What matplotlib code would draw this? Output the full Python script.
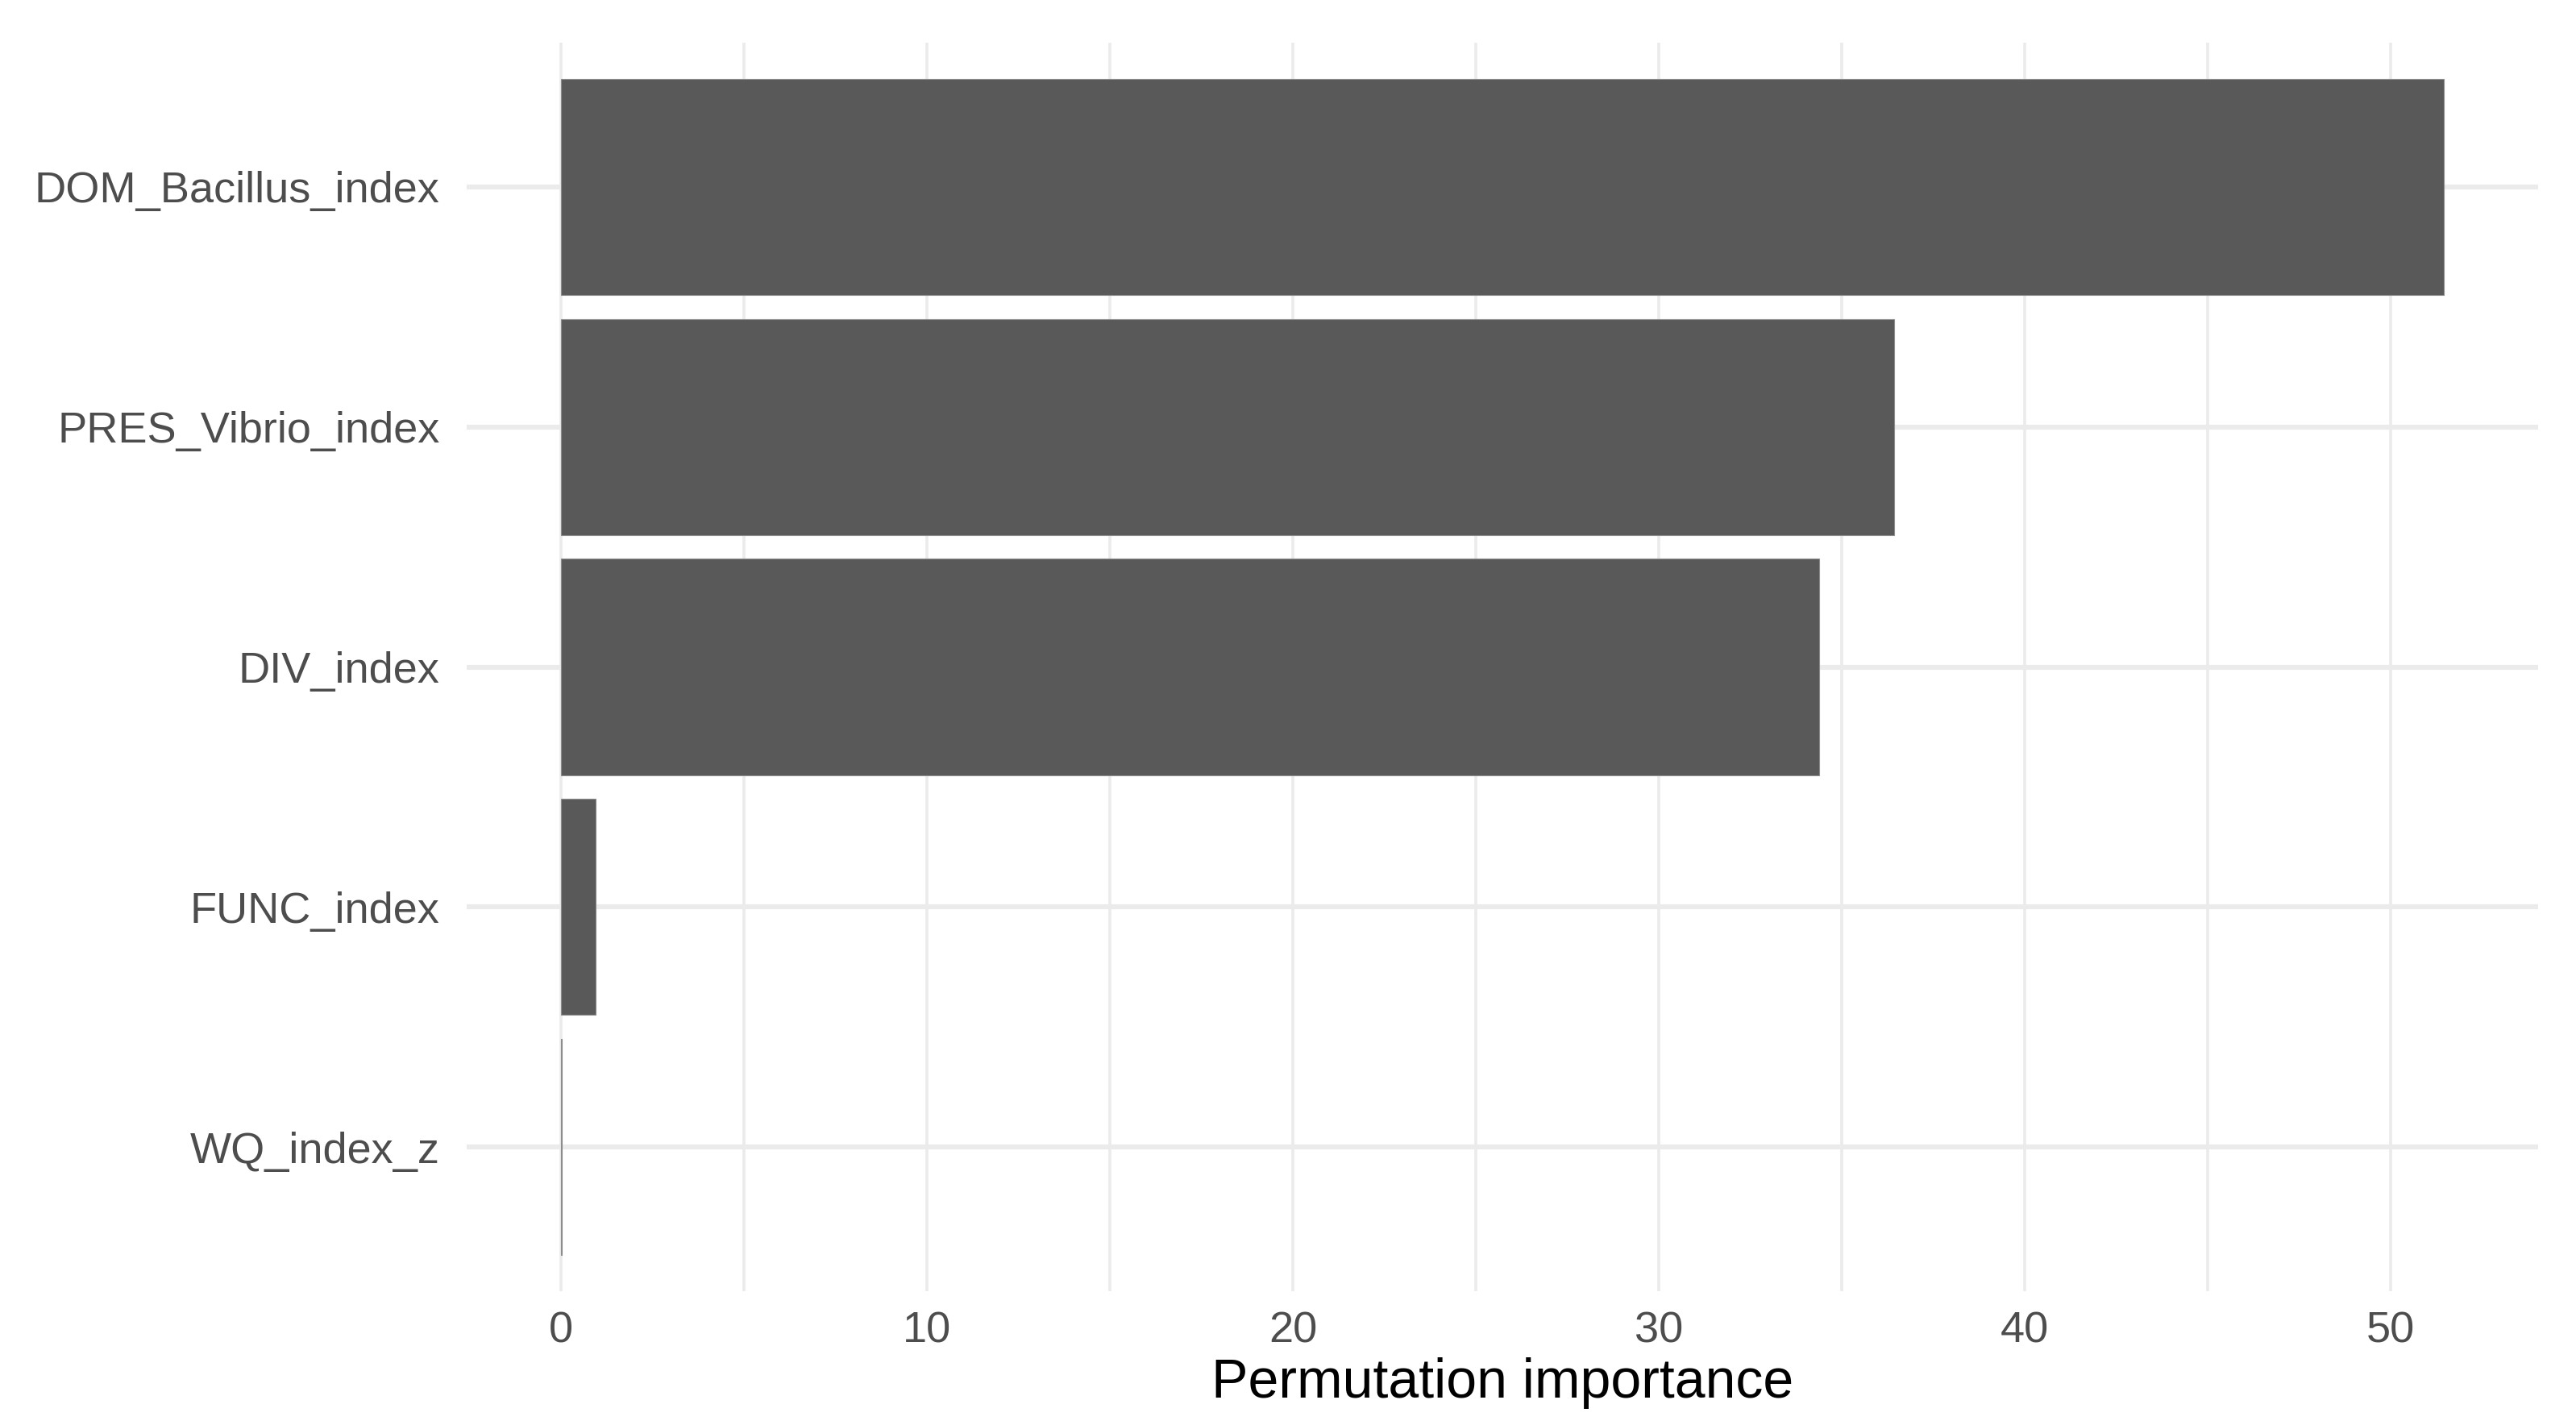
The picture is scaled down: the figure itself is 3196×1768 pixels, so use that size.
import numpy as np
import matplotlib
matplotlib.use("Agg")
import matplotlib.pyplot as plt
from matplotlib.ticker import MultipleLocator

# 数据
features = ["DOM_Bacillus_index", "PRES_Vibrio_index", "DIV_index", "FUNC_index", "WQ_index_z"]
importance = [51.45, 36.43, 34.37, 0.95, 0.02]
x_ticks = [0, 10, 20, 30, 40, 50]

plt.rcParams['font.family'] = ['Liberation Sans', 'DejaVu Sans']

fig = plt.figure(figsize=(15.98, 8.84), dpi=200)
ax = fig.add_axes([0.1812, 0.0939, 0.8041, 0.8761])

ypos = np.arange(len(features))[::-1] + 1
ax.barh(ypos, importance, height=0.9, color="#595959", edgecolor="#8c8c8c",
        linewidth=0.4, zorder=3)

# ggplot 风格的扩展
lo, hi = min(0, min(importance)), max(importance)
pad = (hi - lo) * 0.05
ax.set_xlim(lo - pad, hi + pad)
ax.set_ylim(0.4, len(features) + 0.6)

ax.set_yticks(ypos)
ax.set_yticklabels(features)
ax.set_xticks(x_ticks)
ax.xaxis.set_minor_locator(MultipleLocator(5))

ax.tick_params(axis="both", which="both", length=0, labelsize=19.5, labelcolor="#4D4D4D")
ax.tick_params(axis="y", pad=12)
ax.tick_params(axis="x", pad=9)

ax.grid(axis="y", which="major", color="#EBEBEB", linewidth=2.2, zorder=0)
ax.grid(axis="x", which="major", color="#EBEBEB", linewidth=1.3, zorder=0)
ax.grid(axis="x", which="minor", color="#EBEBEB", linewidth=1.3, zorder=0)
ax.set_axisbelow(True)

for s in ax.spines.values():
    s.set_visible(False)

ax.set_xlabel("Permutation importance", fontsize=24.5, color="black", labelpad=2.5)

fig.savefig("out.png", dpi=200, facecolor="white")
